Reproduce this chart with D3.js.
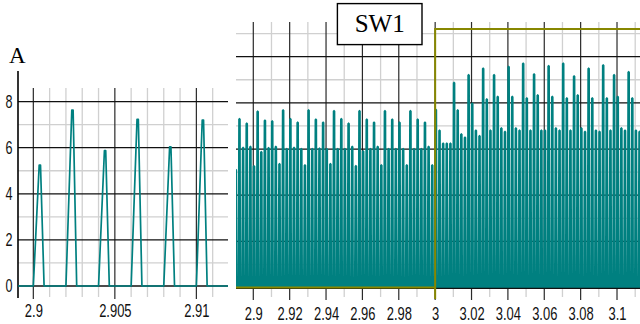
<!DOCTYPE html>
<html>
<head>
<meta charset="utf-8">
<script src="https://cdn.jsdelivr.net/npm/d3@7"></script>
<style>
  html, body { margin: 0; padding: 0; background: #fff; }
  svg { display: block; }
</style>
</head>
<body>
<svg id="chart" width="640" height="324"></svg>
<script>
// ---- data -------------------------------------------------------------
// Current pulses, one per switching period: peak value of each pulse (A)
const firstPulseStart = 2.89;    // s, rise start of the first pulse
const switchingPeriod = 0.002;   // s
const pulsePeaks = [
  5.1, 7.3, 6.05, 7.1, 6.1,
  5.25, 7.63, 5.87, 7.23, 6.04, 7.2, 6.1,
  5.35, 7.68, 6.0, 7.3, 6.05, 7.15, 6.0,
  5.3, 7.68, 6.0, 7.28, 6.02, 7.15, 6.0,
  5.35, 7.65, 6.0, 7.3, 6.0, 7.1, 6.1,
  5.26, 7.65, 5.9, 7.28, 6.0, 7.15, 6.1,
  5.3, 7.65, 6.0, 7.28, 6.0, 7.15, 6.0,
  5.3, 7.65, 6.0, 7.28, 6.0, 7.15, 6.1,
  5.3, 7.7, 6.8, 6.24, 6.24, 6.24, 8.87,
  7.68, 6.64, 6.5, 9.2, 7.97, 6.8, 6.56,
  9.49, 8.15, 6.8, 9.2, 8.26, 6.9, 6.75,
  9.56, 8.26, 6.9, 6.8, 9.7, 8.2, 6.8,
  9.24, 8.33, 6.8, 6.8, 9.59, 8.26, 6.9,
  6.8, 9.7, 8.2, 6.8, 9.15, 8.33, 6.9,
  6.75, 9.49, 8.2, 6.8, 6.75, 9.63, 8.2,
  6.8, 9.2, 8.26, 6.9, 6.8, 9.34, 8.2,
  6.8, 6.75
];
const traceEnd = 3.115;

// Switch SW1 gate signal (off / on)
const gateTimes  = [2.889, 3.0, 3.0, 3.115];
const gateLevels = [0, 0, 1, 1];

// Axis ticks
const leftXMajor  = [2.9, 2.905, 2.91];
const leftXMinor  = [2.901, 2.902, 2.903, 2.904, 2.906, 2.907, 2.908, 2.909, 2.911];
const rightXMajor = [2.9, 2.92, 2.94, 2.96, 2.98, 3.0, 3.02, 3.04, 3.06, 3.08, 3.1, 3.12];
const rightXMinor = [2.91, 2.93, 2.95, 2.97, 2.99, 3.01, 3.03, 3.05, 3.07, 3.09, 3.11];
const yMajor = [0, 2, 4, 6, 8, 10];
const yMinor = [1, 3, 5, 7, 9, 11];
const leftYLabels = [0, 2, 4, 6, 8];

// ---- pulse shape ------------------------------------------------------
const riseTime = 0.00036, flatTop = 0.00008, fallTime = 0.00022;
const trace = [];
pulsePeaks.forEach((h, i) => {
  const s = firstPulseStart + i * switchingPeriod;
  trace.push([s, 0], [s + riseTime, h], [s + riseTime + flatTop, h],
             [s + riseTime + flatTop + fallTime, 0]);
});
trace.push([traceEnd, 0]);

// ---- drawing ----------------------------------------------------------
const svg = d3.select("#chart");
const teal = "#008080", olive = "#878700";
const gridDark = "#2a2a2a", gridLight = "#d0d0d0";
const labelFont = "'Liberation Sans', Arial, sans-serif";
const squeeze = "scale(0.72,1)";

svg.append("rect").attr("width", 640).attr("height", 324).attr("fill", "#fff");

// Left (zoomed) panel
const L = { x0: 18, x1: 228, top: 88 };
const xL = d3.scaleLinear().domain([2.89906, 2.91194]).range([L.x0, L.x1]);
const yL = d3.scaleLinear().domain([0, 8.59]).range([286, L.top]);

// Right (overview) panel
const R = { x0: 236, x1: 640, top: 22 };
const xR = d3.scaleLinear().domain([2.89049, 3.11264]).range([R.x0, R.x1]);
const yR = d3.scaleLinear().domain([0, 11.5]).range([287.6, R.top]);
const yGate = d3.scaleLinear().domain([0, 1]).range([yR(0), yR(11.2)]);

function grid(g, x, y, P, xMaj, xMin, bottomMaj, bottomMin) {
  const yTop = y.domain()[1];
  g.selectAll("line.vmin").data(xMin.filter(d => x(d) >= P.x0 && x(d) <= P.x1)).join("line")
    .attr("x1", d => x(d)).attr("x2", d => x(d))
    .attr("y1", P.top).attr("y2", bottomMin)
    .attr("stroke", gridLight).attr("stroke-width", 1.3);
  g.selectAll("line.hmin").data(yMinor.filter(d => d <= yTop)).join("line")
    .attr("x1", P.x0).attr("x2", P.x1)
    .attr("y1", d => y(d)).attr("y2", d => y(d))
    .attr("stroke", gridLight).attr("stroke-width", 1.3);
  g.selectAll("line.vmaj").data(xMaj.filter(d => x(d) >= P.x0 && x(d) <= P.x1)).join("line")
    .attr("class", "vmaj")
    .attr("x1", d => x(d)).attr("x2", d => x(d))
    .attr("y1", P.top).attr("y2", bottomMaj)
    .attr("stroke", gridDark).attr("stroke-width", 1.2);
  g.selectAll("line.hmaj").data(yMajor.filter(d => d <= yTop)).join("line")
    .attr("class", "hmaj")
    .attr("x1", P.x0).attr("x2", P.x1)
    .attr("y1", d => y(d)).attr("y2", d => y(d))
    .attr("stroke", "#111").attr("stroke-width", 1.3);
}

function clip(id, P, y) {
  svg.append("clipPath").attr("id", id).append("rect")
    .attr("x", P.x0).attr("y", 0).attr("width", P.x1 - P.x0).attr("height", y(0) + 2);
}

// ----- left panel -----
const gL = svg.append("g");
grid(gL.append("g"), xL, yL, L, leftXMajor, leftXMinor, 299, 297);
gL.append("line").attr("x1", L.x0).attr("x2", L.x0).attr("y1", 71).attr("y2", 298)
  .attr("stroke", "#000").attr("stroke-width", 1.6);
clip("clipL", L, yL);
gL.append("path").datum(trace)
  .attr("clip-path", "url(#clipL)")
  .attr("d", d3.line().x(d => xL(d[0])).y(d => yL(d[1])))
  .attr("fill", "none").attr("stroke", teal).attr("stroke-width", 1.7)
  .attr("stroke-linejoin", "round");

const axL = gL.append("g").attr("transform", `translate(0,${yL(0)})`)
  .call(d3.axisBottom(xL).tickValues(leftXMajor).tickSize(0).tickFormat(d3.format("~g")));
axL.select(".domain").remove();
axL.selectAll("text").attr("dy", null).attr("y", 30.8).attr("transform", squeeze)
  .attr("font-family", labelFont).attr("font-size", 18).attr("fill", "#111");

const ayL = gL.append("g").attr("transform", `translate(${L.x0},0)`)
  .call(d3.axisLeft(yL).tickValues(leftYLabels).tickSize(0).tickPadding(0).tickFormat(d3.format("d")));
ayL.select(".domain").remove();
ayL.selectAll("text").attr("x", 0).attr("transform", "translate(-5.5,0) " + squeeze)
  .attr("font-family", labelFont).attr("font-size", 17.5).attr("fill", "#111");

svg.append("text").attr("x", 9).attr("y", 63)
  .attr("font-family", "'Liberation Serif', 'Times New Roman', serif")
  .attr("font-size", 23).attr("fill", "#000").text("A");

// ----- right panel -----
const gR = svg.append("g");
grid(gR.append("g"), xR, yR, R, rightXMajor, rightXMinor, 300, 297);
clip("clipR", R, yR);
gR.append("path").datum(trace)
  .attr("clip-path", "url(#clipR)")
  .attr("d", d3.line().x(d => xR(d[0])).y(d => yR(d[1])))
  .attr("fill", "none").attr("stroke", teal).attr("stroke-width", 2.5)
  .attr("stroke-linejoin", "bevel");

gR.append("line").attr("x1", R.x0).attr("x2", R.x1).attr("y1", yR(0) + 0.8).attr("y2", yR(0) + 0.8)
  .attr("stroke", "#111").attr("stroke-width", 1.4);

// SW1 gate trace
gR.append("path").datum(gateTimes.map((t, i) => [t, gateLevels[i]]))
  .attr("clip-path", "url(#clipR)")
  .attr("d", d3.line().x(d => xR(d[0])).y(d => yGate(d[1])))
  .attr("fill", "none").attr("stroke", olive).attr("stroke-width", 2);
gR.append("line").attr("x1", xR(gateTimes[1])).attr("x2", xR(gateTimes[1]))
  .attr("y1", yR(0)).attr("y2", 299)
  .attr("stroke", olive).attr("stroke-width", 2);

const axR = gR.append("g").attr("transform", `translate(0,${yR(0)})`)
  .call(d3.axisBottom(xR).tickValues(rightXMajor).tickSize(0).tickFormat(d3.format("~g")));
axR.select(".domain").remove();
axR.selectAll("text").attr("dy", null).attr("y", 32.9).attr("transform", squeeze)
  .attr("font-family", labelFont).attr("font-size", 18).attr("fill", "#111");

// SW1 label box
const box = svg.append("g");
box.append("rect").attr("x", 337.4).attr("y", 3.6).attr("width", 84.6).attr("height", 41)
  .attr("fill", "#fff").attr("stroke", "#000").attr("stroke-width", 1.4);
box.append("text").attr("x", 379.7).attr("y", 31.5).attr("text-anchor", "middle")
  .attr("font-family", "'Liberation Serif', 'Times New Roman', serif")
  .attr("font-size", 25).attr("fill", "#000").text("SW1");
</script>
</body>
</html>
